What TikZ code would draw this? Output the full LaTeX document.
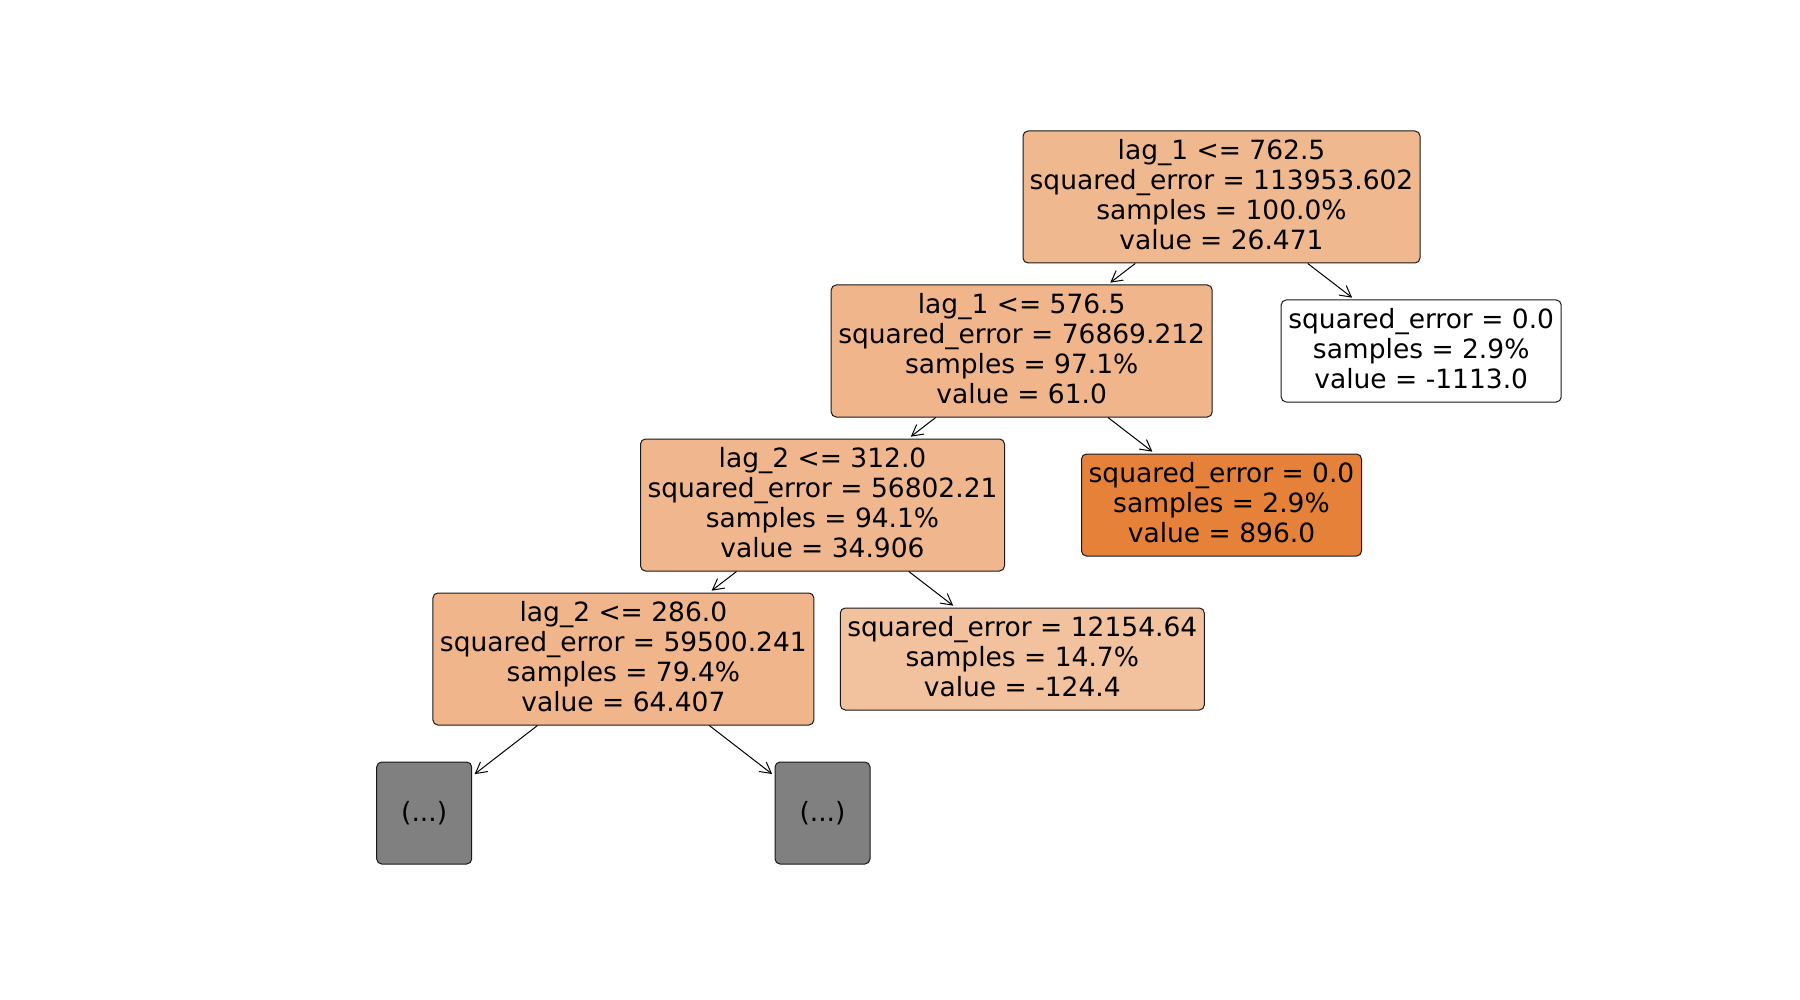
\documentclass[tikz,border=0pt]{standalone}
\usepackage{fontspec}
\setmainfont{DejaVu Sans}
\usetikzlibrary{arrows.meta}
\definecolor{cRoot}{RGB}{240,184,143}
\definecolor{cA}{RGB}{240,181,139}
\definecolor{cB}{RGB}{240,183,142}
\definecolor{cLight}{RGB}{242,193,157}
\definecolor{cDark}{RGB}{229,129,57}
\definecolor{cGray}{RGB}{128,128,128}
\begin{document}
\begin{tikzpicture}[x=1pt,y=-1pt,
  tnode/.style={draw=black!90, line width=1pt, rounded corners=5pt, inner sep=0pt,
    align=center, font=\fontsize{26.5}{30}\selectfont},
  txt/.style={tnode, text depth=4.6pt},
  edge/.style={-{Straight Barb[length=11pt,width=12pt]}, line width=1pt, shorten >=3pt}]
\useasboundingbox (0,0) rectangle (1800,1000);
\node[txt, fill=cRoot, minimum width=397pt, minimum height=132pt] (root) at (1221.5,197)
  {lag\_1 <= 762.5\\squared\_error = 113953.602\\samples = 100.0\%\\value = 26.471};
\node[txt, fill=cA, minimum width=381pt, minimum height=132pt] (n1) at (1021.7,351)
  {lag\_1 <= 576.5\\squared\_error = 76869.212\\samples = 97.1\%\\value = 61.0};
\node[txt, fill=white, minimum width=280pt, minimum height=102pt] (leafW) at (1421.2,351)
  {squared\_error = 0.0\\samples = 2.9\%\\value = -1113.0};
\node[txt, fill=cB, minimum width=364pt, minimum height=132pt] (n2) at (822.5,505)
  {lag\_2 <= 312.0\\squared\_error = 56802.21\\samples = 94.1\%\\value = 34.906};
\node[txt, fill=cDark, minimum width=280pt, minimum height=102pt] (leafO) at (1221.5,505)
  {squared\_error = 0.0\\samples = 2.9\%\\value = 896.0};
\node[txt, fill=cA, minimum width=381pt, minimum height=132pt] (n3) at (623.4,659)
  {lag\_2 <= 286.0\\squared\_error = 59500.241\\samples = 79.4\%\\value = 64.407};
\node[txt, fill=cLight, minimum width=364pt, minimum height=102pt] (leafL) at (1022.3,659)
  {squared\_error = 12154.64\\samples = 14.7\%\\value = -124.4};
\node[tnode, fill=cGray, minimum width=95pt, minimum height=102pt] (g1) at (424.2,813) {(...)};
\node[tnode, fill=cGray, minimum width=95pt, minimum height=102pt] (g2) at (822.5,813) {(...)};
\draw[edge] (root) -- (n1);
\draw[edge] (root) -- (leafW);
\draw[edge] (n1) -- (n2);
\draw[edge] (n1) -- (leafO);
\draw[edge] (n2) -- (n3);
\draw[edge] (n2) -- (leafL);
\draw[edge] (n3) -- (g1);
\draw[edge] (n3) -- (g2);
\end{tikzpicture}
\end{document}
